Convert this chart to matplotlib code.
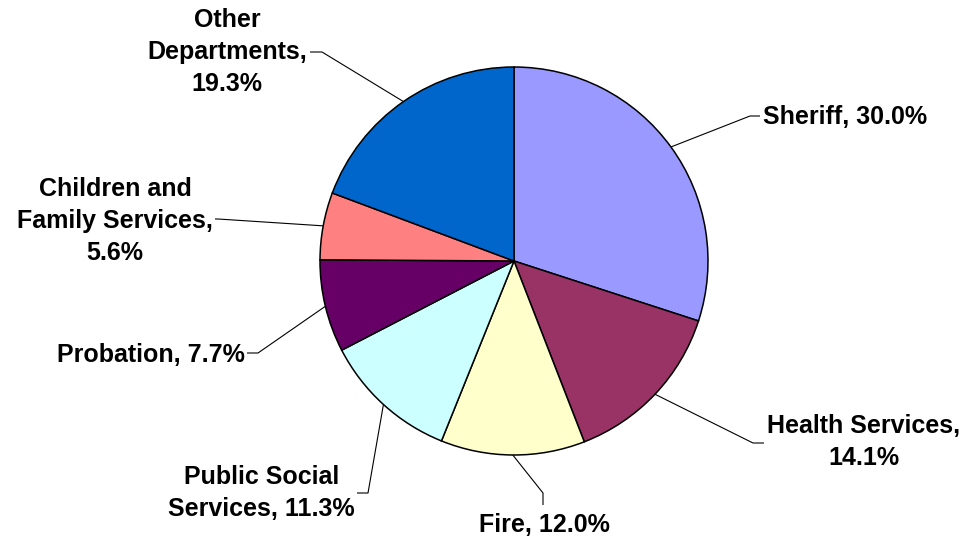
import numpy as np
import matplotlib
matplotlib.use("Agg")
import matplotlib.pyplot as plt

# Share of spending by department (percent)
departments = [
    "Sheriff",
    "Health Services",
    "Fire",
    "Public Social\nServices",
    "Probation",
    "Children and\nFamily Services",
    "Other\nDepartments",
]
shares = [30.0, 14.1, 12.0, 11.3, 7.7, 5.6, 19.3]
colors = ["#9999FF", "#993366", "#FFFFCC", "#CCFFFF", "#660066", "#FF8080", "#0066CC"]
# separator between name and percentage in each label
separators = [", ", ",\n", ", ", ", ", ", ", ",\n", ",\n"]

W, H = 973, 544
fig = plt.figure(figsize=(W / 100, H / 100), dpi=100)
ax = fig.add_axes([0, 0, 1, 1])

cx, cy, r = 514, H - 261, 194
wedges, _ = ax.pie(
    shares,
    colors=colors,
    startangle=90,
    counterclock=False,
    center=(cx, cy),
    radius=r,
    wedgeprops=dict(edgecolor="black", linewidth=1.1),
    frame=True,
)
ax.set_xlim(0, W)
ax.set_ylim(0, H)
ax.set_aspect("equal")
ax.axis("off")

# label layout: elbow point, line end, text anchor, horizontal alignment (pixel coords, y down)
layout = [
    ((750, 116), (760, 116), (763, 117), "left"),
    ((753, 443), (764, 443), (767, 442), "left"),
    ((543, 493), (543, 505), (544, 525), "center"),
    ((368, 493), (357, 493), (355, 493), "right"),
    ((258, 353), (247, 353), (245, 355), "right"),
    ((218, 219), (215, 219), (213, 221), "right"),
    ((322, 52), (310, 52), (307, 52), "right"),
]

font = dict(family=["Liberation Sans", "DejaVu Sans"], weight="bold", size=18)

for w, name, val, sep, (elbow, end, tpos, ha) in zip(wedges, departments, shares, separators, layout):
    mid = np.deg2rad((w.theta1 + w.theta2) / 2)
    sx, sy = cx + r * np.cos(mid), cy + r * np.sin(mid)
    xs = [sx, elbow[0], end[0]]
    ys = [sy, H - elbow[1], H - end[1]]
    ax.plot(xs, ys, color="black", linewidth=0.8, solid_capstyle="butt")
    ax.text(tpos[0], H - tpos[1], f"{name}{sep}{val:.1f}%", ha=ha, va="center",
            multialignment="center", linespacing=1.4, **font)

fig.savefig("out.png", dpi=100, facecolor="white")
